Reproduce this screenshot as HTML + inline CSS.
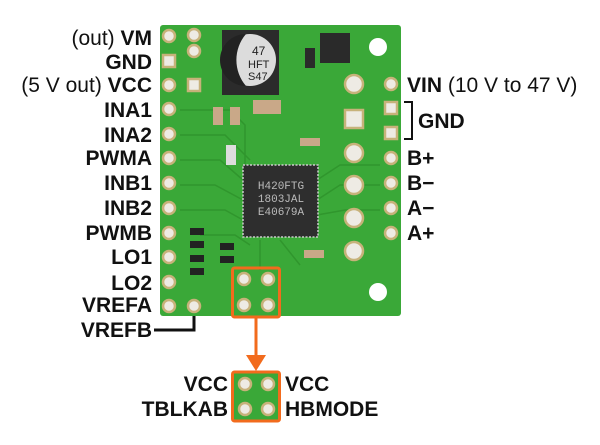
<!DOCTYPE html>
<html><head><style>body{margin:0;background:#fff}svg{display:block}</style></head><body>
<svg width="600" height="445" xmlns="http://www.w3.org/2000/svg" font-family="Liberation Sans, sans-serif">
<rect width="600" height="445" fill="#fff"/>
<rect x="160" y="25" width="241" height="291" rx="3" fill="#3aa838"/>
<g fill="none" stroke="#30962d" stroke-width="1.5">
<path d="M180 110 H230 L245 125 V165"/><path d="M180 135 H225 L250 160"/><path d="M180 160 H220 L243 180"/><path d="M180 185 H215 L243 200"/><path d="M180 210 H225 L243 220"/><path d="M200 235 H235 L250 245"/><path d="M317 180 L340 165 H380"/><path d="M317 200 L340 185 H380"/><path d="M317 215 L345 210 H380"/><path d="M260 240 V270"/><path d="M280 240 L300 265"/>
</g>
<g fill="#eeebe4" stroke="#c7b27a" stroke-width="2.5">
<circle cx="169" cy="36" r="6"/><rect x="163" y="55" width="12" height="12"/><circle cx="169" cy="85" r="6"/><circle cx="169" cy="109" r="6"/><circle cx="169" cy="134" r="6"/><circle cx="169" cy="158" r="6"/><circle cx="169" cy="183" r="6"/><circle cx="169" cy="208" r="6"/><circle cx="169" cy="233" r="6"/><circle cx="169" cy="257" r="6"/><circle cx="169" cy="282" r="6"/><circle cx="169" cy="306" r="6"/>
<circle cx="194" cy="35" r="6"/><circle cx="194" cy="51" r="6"/><rect x="188" y="79" width="12" height="12"/><circle cx="194" cy="306" r="6"/>
<circle cx="354" cy="84" r="9"/><rect x="345" y="110" width="18" height="18"/><circle cx="354" cy="153" r="9"/><circle cx="354" cy="185" r="9"/><circle cx="354" cy="218" r="9"/><circle cx="354" cy="251" r="9"/>
<circle cx="391" cy="84" r="6"/><rect x="385" y="102" width="12" height="12"/><rect x="385" y="127" width="12" height="12"/><circle cx="391" cy="158" r="6"/><circle cx="391" cy="183" r="6"/><circle cx="391" cy="208" r="6"/><circle cx="391" cy="233" r="6"/>
<circle cx="244" cy="279" r="6"/><circle cx="268" cy="279" r="6"/><circle cx="244" cy="305" r="6"/><circle cx="268" cy="305" r="6"/>
</g>
<circle cx="378" cy="47" r="9" fill="#fff"/><circle cx="378" cy="292" r="9" fill="#fff"/>
<rect x="222" y="30" width="57" height="65" fill="#2b2b2b"/>
<circle cx="250" cy="60" r="26" fill="#dcdcdc"/><path d="M246 34 A26 26 0 0 0 246 86 A40 40 0 0 1 246 34 Z" fill="#222"/>
<text x="252" y="55" font-size="12" fill="#222">47</text><text x="248" y="68" font-size="11" fill="#222">HFT</text><text x="248" y="80" font-size="11" fill="#222">S47</text>
<rect x="320" y="33" width="30" height="30" fill="#2a2a2a"/>
<rect x="305" y="48" width="10" height="20" fill="#2a2a2a"/>
<rect x="253" y="100" width="28" height="14" fill="#c9a888"/>
<rect x="213" y="107" width="10" height="18" fill="#c9a888"/><rect x="230" y="107" width="10" height="18" fill="#c9a888"/>
<rect x="226" y="145" width="10" height="20" fill="#ddd"/>
<rect x="243" y="165" width="75" height="72" fill="#2e2e2e" stroke="#ccc" stroke-width="1.5" stroke-dasharray="2 1.5"/>
<g font-family="Liberation Mono, monospace" font-size="11" fill="#bbb" text-anchor="middle"><text x="281" y="189">H420FTG</text><text x="281" y="202">1803JAL</text><text x="281" y="215">E40679A</text></g>
<g fill="#222"><rect x="190" y="228" width="14" height="7"/><rect x="190" y="241" width="14" height="7"/><rect x="190" y="255" width="14" height="7"/><rect x="190" y="268" width="14" height="7"/><rect x="220" y="243" width="14" height="7"/><rect x="220" y="256" width="14" height="7"/></g>
<rect x="304" y="250" width="20" height="8" fill="#c9a888"/><rect x="300" y="138" width="20" height="8" fill="#c9a888"/>
<rect x="232.5" y="268" width="47" height="49" rx="2" fill="none" stroke="#f26b1d" stroke-width="3"/>
<line x1="256" y1="317" x2="256" y2="358" stroke="#f26b1d" stroke-width="3"/>
<path d="M246 355 H266 L256 371 Z" fill="#f26b1d"/>
<rect x="232.5" y="372" width="47" height="49" rx="2" fill="#3aa838" stroke="#f26b1d" stroke-width="3"/>
<g fill="#eeebe4" stroke="#c7b27a" stroke-width="2.5"><circle cx="245" cy="384" r="6"/><circle cx="268" cy="384" r="6"/><circle cx="245" cy="409" r="6"/><circle cx="268" cy="409" r="6"/></g>
<path d="M154 330 H194 V316" fill="none" stroke="#111" stroke-width="3"/>
<path d="M404 102 H412 V139 H404" fill="none" stroke="#111" stroke-width="2"/>
<g font-size="21" font-weight="bold" fill="#111" text-anchor="end">
<text x="152" y="45"><tspan font-weight="normal">(out) </tspan>VM</text>
<text x="152" y="69">GND</text>
<text x="152" y="92"><tspan font-weight="normal">(5 V out) </tspan>VCC</text>
<text x="152" y="117">INA1</text><text x="152" y="142">INA2</text><text x="152" y="165">PWMA</text><text x="152" y="190">INB1</text><text x="152" y="215">INB2</text><text x="152" y="240">PWMB</text><text x="152" y="264">LO1</text><text x="152" y="290">LO2</text><text x="152" y="312">VREFA</text><text x="152" y="337">VREFB</text>
<text x="228" y="391">VCC</text><text x="228" y="416">TBLKAB</text>
</g>
<g font-size="21" font-weight="bold" fill="#111">
<text x="407" y="92">VIN<tspan font-weight="normal"> (10 V to 47 V)</tspan></text>
<text x="418" y="128">GND</text>
<text x="407" y="165">B+</text><text x="407" y="190">B−</text><text x="407" y="215">A−</text><text x="407" y="240">A+</text>
<text x="285" y="391">VCC</text><text x="285" y="416">HBMODE</text>
</g>
</svg>
</body></html>
